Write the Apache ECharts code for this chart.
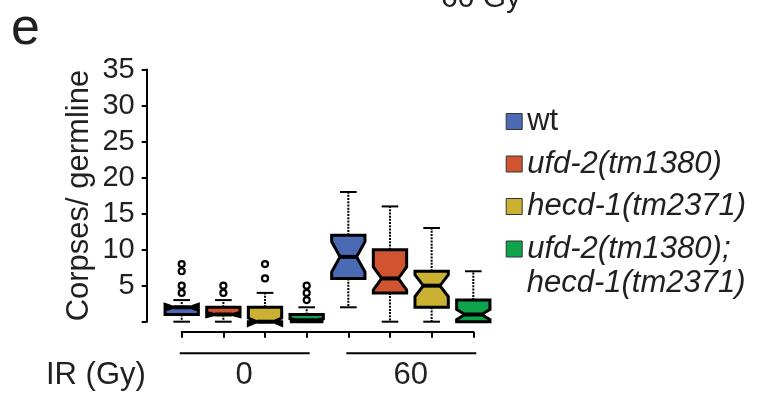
<!DOCTYPE html>
<html>
<head>
<meta charset="utf-8">
<script src="https://cdn.jsdelivr.net/npm/echarts@6/dist/echarts.min.js"></script>
<style>
  html, body { margin: 0; padding: 0; background: #fff; }
  #chart { width: 763px; height: 396px; }
</style>
</head>
<body>
<div id="chart"></div>
<script>
// Irradiation doses (Gy) and genotypes
const doses = ['0', '60'];
const genotypes = ['wt', 'ufd-2(tm1380)', 'hecd-1(tm2371)', 'ufd-2(tm1380); hecd-1(tm2371)'];
const colors = ['#4a6bb3', '#d0542f', '#cab132', '#0fa34b'];

// Box statistics per dose: [min, Q1, median, Q3, max]
const wtStats     = [[0, 1, 2, 2, 3],   [2, 6, 9, 12, 18]];
const ufd2Stats   = [[0, 1, 1, 2, 3],   [0, 4, 6, 10, 16]];
const hecd1Stats  = [[0, 0, 0, 2, 4],   [0, 2, 5, 7, 13]];
const doubleStats = [[0, 0, 0.2, 1, 2], [0, 0, 1, 3, 7]];

// Median notch extents per dose: [low, high]
const wtNotch     = [[1.6, 2.4], [6.9, 11.1]];
const ufd2Notch   = [[0.7, 1.3], [4.4, 7.6]];
const hecd1Notch  = [[-0.5, 0.5], [3.5, 6.5]];
const doubleNotch = [[0, 0.4], [0.3, 1.7]];

// Outlying germlines per dose
const wtOutliers     = [[4, 5, 7, 8], []];
const ufd2Outliers   = [[4, 5], []];
const hecd1Outliers  = [[6, 8], []];
const doubleOutliers = [[3, 4, 5], []];

// Y axis ticks
const yMin = 0, yMax = 35, yStep = 5;

const allStats = [wtStats, ufd2Stats, hecd1Stats, doubleStats];
const allNotch = [wtNotch, ufd2Notch, hecd1Notch, doubleNotch];
const allOutliers = [wtOutliers, ufd2Outliers, hecd1Outliers, doubleOutliers];

// One x slot per dose x genotype
const slots = [];
doses.forEach(d => genotypes.forEach(g => slots.push(d + ' Gy ' + g)));

const FONT = 'Liberation Sans, Arial, Helvetica, sans-serif';
const INK = '#231f20';

function boxRenderer(g) {
  return function (params, api) {
    const xi = api.value(0);
    const mn = api.value(1), q1 = api.value(2), md = api.value(3), q3 = api.value(4), mx = api.value(5);
    const nLo = api.value(6), nHi = api.value(7);
    const cx = api.coord([xi, 0])[0];
    const band = api.size([1, 0])[0];
    const hw = band * 0.4;
    const inset = hw * 0.5;
    const capHw = band * 0.2;
    const y = v => api.coord([xi, v])[1];
    const color = api.visual('color');
    const children = [];
    const whisker = { stroke: '#000', lineWidth: 2, lineDash: [2, 1.2] };
    const cap = { stroke: '#000', lineWidth: 2 };
    if (mx > q3) {
      children.push({ type: 'line', shape: { x1: cx, y1: y(q3), x2: cx, y2: y(mx) }, style: whisker });
      children.push({ type: 'line', shape: { x1: cx - capHw, y1: y(mx), x2: cx + capHw, y2: y(mx) }, style: cap });
    }
    if (mn < q1) {
      children.push({ type: 'line', shape: { x1: cx, y1: y(q1), x2: cx, y2: y(mn) }, style: whisker });
      children.push({ type: 'line', shape: { x1: cx - capHw, y1: y(mn), x2: cx + capHw, y2: y(mn) }, style: cap });
    }
    children.push({
      type: 'polygon',
      shape: {
        points: [
          [cx - hw, y(q1)], [cx - hw, y(nLo)], [cx - inset, y(md)], [cx - hw, y(nHi)], [cx - hw, y(q3)],
          [cx + hw, y(q3)], [cx + hw, y(nHi)], [cx + inset, y(md)], [cx + hw, y(nLo)], [cx + hw, y(q1)]
        ]
      },
      style: { fill: color, stroke: '#000', lineWidth: 3, lineJoin: 'miter' }
    });
    children.push({
      type: 'line',
      shape: { x1: cx - inset, y1: y(md), x2: cx + inset, y2: y(md) },
      style: { stroke: '#000', lineWidth: 4 }
    });
    const outs = allOutliers[g][params.dataIndex] || [];
    outs.forEach(v => {
      children.push({
        type: 'circle',
        shape: { cx: cx, cy: y(v), r: 3 },
        style: { fill: '#fff', stroke: '#000', lineWidth: 2.2 }
      });
    });
    return { type: 'group', children: children };
  };
}

const boxSeries = genotypes.map((name, g) => ({
  name: name,
  type: 'custom',
  color: colors[g],
  itemStyle: { color: colors[g] },
  renderItem: boxRenderer(g),
  encode: { x: 0, y: [1, 2, 3, 4, 5] },
  data: doses.map((d, di) => [di * genotypes.length + g].concat(allStats[g][di], allNotch[g][di]))
}));

// Dose group underlines and labels below the axis
const groupSeries = {
  type: 'custom',
  silent: true,
  renderItem: function (params, api) {
    const a = api.value(0), b = api.value(1);
    const p0 = api.coord([a, 0]);
    const p1 = api.coord([b, 0]);
    const ly = p0[1] + 31.5;
    return {
      type: 'group',
      children: [
        { type: 'line', shape: { x1: p0[0] - 2, y1: ly, x2: p1[0] + 3, y2: ly }, style: { stroke: '#000', lineWidth: 2 } },
        {
          type: 'text',
          style: {
            text: doses[params.dataIndex], x: (p0[0] + p1[0]) / 2, y: ly + 22,
            align: 'center', verticalAlign: 'middle',
            font: '31px ' + FONT, fill: INK
          }
        }
      ]
    };
  },
  encode: { x: [0, 1], y: 2 },
  data: doses.map((d, di) => [di * genotypes.length, di * genotypes.length + genotypes.length - 1, 0])
};

const chart = echarts.init(document.getElementById('chart'));
chart.setOption({
  animation: false,
  grid: { left: 181.7, right: 289.7, top: 69.5, bottom: 74.3 },
  xAxis: {
    type: 'category',
    data: slots,
    boundaryGap: false,
    offset: 10,
    axisLine: { onZero: false, lineStyle: { color: '#000', width: 2 } },
    axisTick: { show: true, interval: 0, length: 6, lineStyle: { color: '#000', width: 2 } },
    axisLabel: { show: false },
    splitLine: { show: false }
  },
  yAxis: {
    type: 'value',
    min: yMin, max: yMax, interval: yStep,
    offset: 35,
    name: 'Corpses/ germline',
    nameLocation: 'middle',
    nameGap: 52,
    nameTextStyle: { fontFamily: FONT, fontSize: 31, color: INK },
    axisLine: { show: true, onZero: false, lineStyle: { color: '#000', width: 2 } },
    axisTick: { show: true, length: 5, lineStyle: { color: '#000', width: 2 } },
    axisLabel: {
      margin: 12, fontFamily: FONT, fontSize: 29, color: INK,
      formatter: v => (v === 0 ? '' : String(v))
    },
    splitLine: { show: false }
  },
  legend: {
    orient: 'vertical',
    left: 505.7,
    top: 106,
    padding: 0,
    icon: 'rect',
    itemWidth: 16,
    itemHeight: 16,
    itemGap: 11.5,
    itemStyle: { borderColor: '#333', borderWidth: 1 },
    data: genotypes,
    formatter: name => {
      if (name === genotypes[0]) return '{n|' + name + '}';
      if (name === genotypes[3]) return '{i|ufd-2(tm1380);}';
      return '{i|' + name + '}';
    },
    textStyle: {
      fontFamily: FONT, fontSize: 31, color: INK, lineHeight: 30,
      rich: {
        n: { fontFamily: FONT, fontSize: 31, color: INK, lineHeight: 30 },
        i: { fontFamily: FONT, fontSize: 31, color: INK, lineHeight: 30, fontStyle: 'italic' }
      }
    },
    selectedMode: false
  },
  graphic: [
    { type: 'text', left: 11, top: 4, style: { text: 'e', font: '52px ' + FONT, fill: INK } },
    { type: 'text', x: 441, y: 14, style: { text: '60 Gy', font: '30px ' + FONT, fill: INK, verticalAlign: 'bottom' } },
    { type: 'text', x: 46, y: 375, style: { text: 'IR (Gy)', font: '31px ' + FONT, fill: INK, verticalAlign: 'middle' } },
    { type: 'text', x: 526.7, y: 283, style: { text: 'hecd-1(tm2371)', font: 'italic 31px ' + FONT, fill: INK, verticalAlign: 'middle' } }
  ],
  series: boxSeries.concat([groupSeries])
});
</script>
</body>
</html>
